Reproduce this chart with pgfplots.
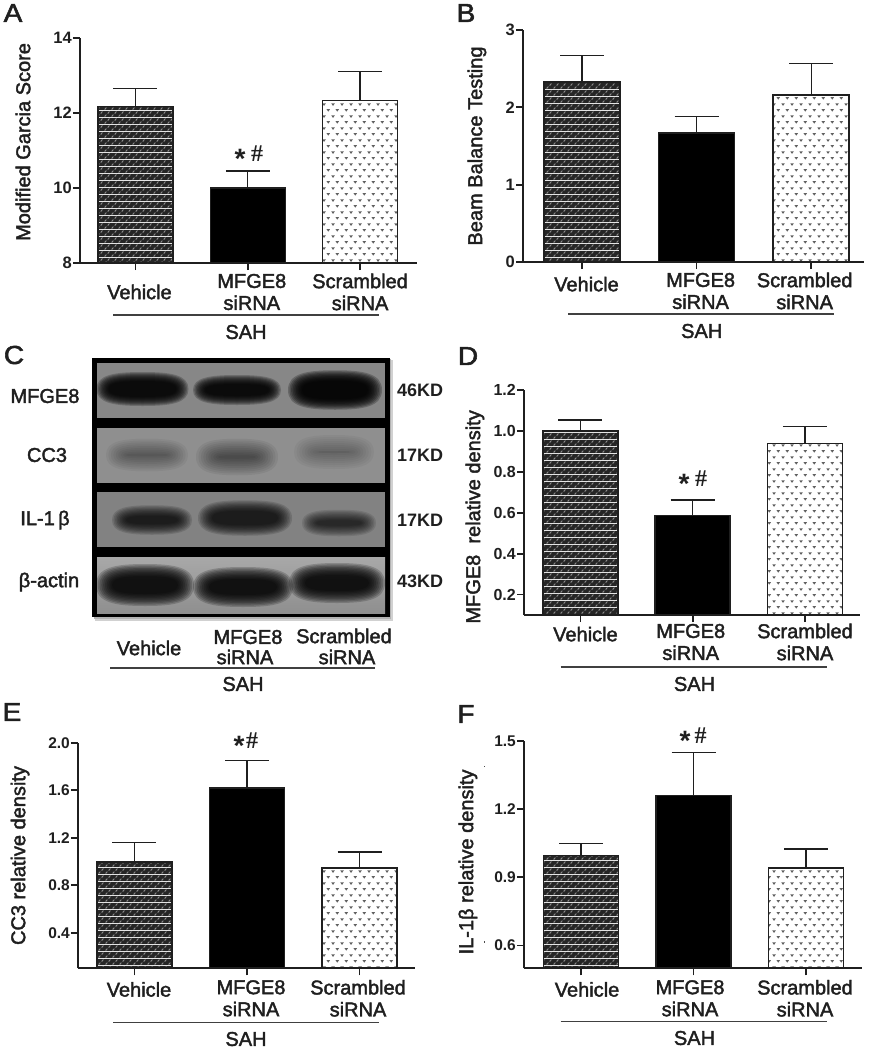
\documentclass[border=0pt]{standalone}
\usepackage{fontspec}
\usepackage{pgfplots}
\pgfplotsset{compat=1.18}
\usetikzlibrary{patterns}
\setmainfont{Liberation Sans}
\newfontfamily\med[FakeBold=2]{Liberation Sans}
\newcommand\labfont{\med\fontsize{20}{22}\selectfont}
\newcommand\tickfont[1]{\bfseries\fontsize{#1}{#1}\selectfont}
\newcommand\sh[1]{\hspace*{#1}}
\definecolor{ink}{gray}{0.12}
\pgfdeclarepatterninherentlycolored{darkw}{\pgfpointorigin}{\pgfqpoint{6.5pt}{6.5pt}}{\pgfqpoint{6.5pt}{6.5pt}}{%
  \pgfsetfillcolor{black!85}%
  \pgfpathrectangle{\pgfpointorigin}{\pgfqpoint{6.5pt}{6.5pt}}\pgfusepath{fill}%
  \pgfsetstrokecolor{black!45}\pgfsetlinewidth{1pt}%
  \pgfpathmoveto{\pgfqpoint{0.7pt}{0.5pt}}\pgfpathlineto{\pgfqpoint{2.5pt}{2.6pt}}%
  \pgfpathmoveto{\pgfqpoint{3.95pt}{3.75pt}}\pgfpathlineto{\pgfqpoint{5.75pt}{5.85pt}}%
  \pgfusepath{stroke}}
\pgfdeclarepatternformonly{scr}{\pgfpointorigin}{\pgfqpoint{9.2pt}{12.2pt}}{\pgfqpoint{9.2pt}{12.2pt}}{%
  \pgfpathmoveto{\pgfqpoint{0.3pt}{11.2pt}}\pgfpathlineto{\pgfqpoint{4.1pt}{11.2pt}}\pgfpathlineto{\pgfqpoint{2.2pt}{8.6pt}}\pgfpathclose
  \pgfpathmoveto{\pgfqpoint{4.9pt}{5.1pt}}\pgfpathlineto{\pgfqpoint{8.7pt}{5.1pt}}\pgfpathlineto{\pgfqpoint{6.8pt}{2.5pt}}\pgfpathclose
  \pgfusepath{fill}}
\pgfplotsset{
  barax/.style={
    scale only axis, axis lines*=left, axis on top,
    axis line style={line width=2pt,color=ink},
    tick align=outside, major tick length=7pt,
    tick style={line width=1.8pt,color=ink},
    xtick={0,1,2},
    x tick label style={font=\labfont,align=center,anchor=center,text=ink},
    y tick label style={inner xsep=1pt,text=ink},
    y label style={font=\labfont,anchor=center,text=ink},
  },
  dk/.style={ybar,bar shift=0pt,draw=ink,line width=1.5pt,pattern=darkw},
  bk/.style={ybar,bar shift=0pt,draw=ink,line width=1.5pt,fill=black},
  sc/.style={ybar,bar shift=0pt,draw=ink,line width=1.5pt,pattern=scr,pattern color=black!62},
  eb/.style={error bars/.cd,y dir=plus,y explicit,
    error bar style={line width=1.3pt,color=ink},
    error mark options={rotate=90,mark size=22pt,line width=1.3pt,color=ink}},
}
\newcommand\threebars[6]{%
  \addplot[dk,eb] coordinates {(0,#1) +- (0,#4)};
  \addplot[bk,eb] coordinates {(1,#2) +- (0,#5)};
  \addplot[sc,eb] coordinates {(2,#3) +- (0,#6)};
}
\newcommand\band[6]{% cx cy a b darkness soft
  \pgfmathsetmacro\op{1-(1-#5)^(0.1)}
  \foreach \i in {0,...,9}{
    \pgfmathsetmacro\dd{#6*(1-\i/4.5)}
    \pgfmathsetmacro\ww{#3+\dd}
    \pgfmathsetmacro\hh{#4+\dd*0.75}
    \fill[black,fill opacity=\op]
      ({#1-\ww},{#2}) .. controls ({#1-\ww},{#2-0.85*\hh}) and ({#1-0.6*\ww},{#2-\hh}) .. ({#1},{#2-\hh})
      .. controls ({#1+0.6*\ww},{#2-\hh}) and ({#1+\ww},{#2-0.85*\hh}) .. ({#1+\ww},{#2})
      .. controls ({#1+\ww},{#2+0.85*\hh}) and ({#1+0.6*\ww},{#2+\hh}) .. ({#1},{#2+\hh})
      .. controls ({#1-0.6*\ww},{#2+\hh}) and ({#1-\ww},{#2+0.85*\hh}) .. cycle;
  }
}
\newcommand\sigmark[3]{% x of *, x of #, y
  \node[text=ink] at (#1,#3+5) {\bfseries\fontsize{28}{28}\selectfont *};
  \node[text=ink] at (#2,#3) {\fontspec{Liberation Serif}\bfseries\fontsize{24}{24}\selectfont \#};
}
\begin{document}
\begin{tikzpicture}
\useasboundingbox (0pt,0pt) rectangle (869pt,-1050pt);

% A
\begin{axis}[barax,at={(80pt,-263pt)},anchor=south west,width=337pt,height=225pt,
  xmin=-0.494,xmax=2.507,ymin=8,ymax=14,bar width=75pt,
  ytick={8,10,12,14},yticklabels={8,10,12,14},
  y tick label style={font=\tickfont{16.5}},
  xticklabels={\sh{8pt}Vehicle,\sh{8pt}MFGE8\\\sh{8pt}siRNA,Scrambled\\siRNA},
  x tick label style={yshift=-22pt},
  ylabel={Modified Garcia Score},y label style={at={(axis description cs:-0.169,0.538)}}]
\threebars{12.18}{10.0}{12.33}{0.47}{0.45}{0.77}
\end{axis}

% B
\begin{axis}[barax,at={(523pt,-262pt)},anchor=south west,width=341pt,height=232pt,
  xmin=-0.515,xmax=2.461,ymin=0,ymax=3,bar width=76pt,
  ytick={0,1,2,3},yticklabels={0,1,2,3},
  y tick label style={font=\tickfont{16.5}},
  xticklabels={\sh{9pt}\raisebox{14pt}{Vehicle},\sh{8pt}MFGE8\\\sh{8pt}siRNA,\sh{-13pt}Scrambled\\\sh{-13pt}siRNA},
  x tick label style={yshift=-22pt},
  ylabel={Beam Balance Testing},y label style={at={(axis description cs:-0.135,0.5)}}]
\threebars{2.33}{1.67}{2.16}{0.34}{0.21}{0.41}
\end{axis}

% D
\begin{axis}[barax,at={(524pt,-615pt)},anchor=south west,width=336pt,height=225pt,
  xmin=-0.503,xmax=2.49,ymin=0.1,ymax=1.2,bar width=75pt,
  ytick={0.2,0.4,0.6,0.8,1.0,1.2},yticklabels={0.2,0.4,0.6,0.8,1.0,1.2},
  y tick label style={font=\tickfont{16}},
  xticklabels={\sh{10pt}\raisebox{16pt}{Vehicle},\sh{-4pt}MFGE8\\\sh{-4pt}siRNA,Scrambled\\siRNA},
  x tick label style={yshift=-20pt},
  ylabel={MFGE8\ \ relative density},y label style={at={(axis description cs:-0.146,0.436)}}]
\threebars{1.0}{0.587}{0.938}{0.054}{0.075}{0.082}
\end{axis}

% E
\begin{axis}[barax,at={(78pt,-968.3pt)},anchor=south west,width=337pt,height=225.6pt,
  xmin=-0.502,xmax=2.493,ymin=0.1,ymax=2.0,bar width=75pt,
  ytick={0.4,0.8,1.2,1.6,2.0},yticklabels={0.4,0.8,1.2,1.6,2.0},
  y tick label style={font=\tickfont{15.5}},
  xticklabels={\sh{9pt}\raisebox{18pt}{Vehicle},\sh{8pt}MFGE8\\\sh{8pt}siRNA,\sh{-3pt}Scrambled\\\sh{-3pt}siRNA},
  x tick label style={yshift=-23pt},
  ylabel={CC3 relative density},y label style={at={(axis description cs:-0.172,0.5)}}]
\threebars{0.996}{1.62}{0.946}{0.164}{0.233}{0.134}
\end{axis}

% F
\begin{axis}[barax,at={(524pt,-968.3pt)},anchor=south west,width=337.7pt,height=227.3pt,
  xmin=-0.507,xmax=2.495,ymin=0.5,ymax=1.5,bar width=75pt,
  ytick={0.6,0.9,1.2,1.5},yticklabels={0.6,0.9,1.2,1.5},
  y tick label style={font=\tickfont{15.5}},
  xticklabels={\sh{12pt}\raisebox{18pt}{Vehicle},\sh{-7pt}MFGE8\\\sh{-7pt}siRNA,\sh{-2pt}Scrambled\\\sh{-2pt}siRNA},
  x tick label style={yshift=-23pt},
  ylabel={IL-1β relative density},y label style={at={(axis description cs:-0.166,0.468)}}]
\threebars{0.997}{1.26}{0.941}{0.053}{0.191}{0.084}
\end{axis}

\begin{scope}[x=1pt,y=-1pt]
% panel letters
\foreach \ll/\xx/\yy in {A/13/13,B/466/13,C/14/355,D/468/356,E/12/712,F/466/714}
  \node[text=ink,xscale=1.08] at (\xx,\yy) {\med\fontsize{26}{26}\selectfont\ll};

% SAH rules and labels
\foreach \aa/\bb/\yy/\sx/\sy in {113/379/315/246/332,568/834/314/701.7/331,110/375/668/243/684,560.7/826.7/667/694.5/684,113/379/1022.7/246/1039,560.7/827/1021.7/694.5/1038}{
  \draw[line width=1.3pt,color=black!75] (\aa,\yy) -- (\bb,\yy);
  \node[text=ink,font=\labfont] at (\sx,\sy) {SAH};
}

% significance marks
\sigmark{240}{257}{154}
\sigmark{684}{701}{479}
\sigmark{239}{252}{741}
\sigmark{685}{700.7}{736}

% specks in F
\fill[black!70] (483.5,766) rectangle (485,767);
\fill[black!70] (483.5,941) rectangle (485,943);

% panel C: blot
\fill[black!18] (95,360) rectangle (393,621);
\fill[black!30] (94,359) rectangle (391,619);
\fill[black] (92,358) rectangle (389.5,617);
\begin{scope}
\clip (97,363) rectangle (385,418);
\fill[black!47] (97,363) rectangle (385,418);
\band{142.5}{389}{40}{12.5}{0.9}{6}
\band{237}{390}{38}{10.5}{0.9}{6}
\band{335}{390}{40}{14.5}{0.93}{7}
\end{scope}
\begin{scope}
\clip (97,428) rectangle (385,483);
\fill[black!44] (97,428) rectangle (385,483);
\band{147}{455}{30}{8}{0.38}{11}
\band{237}{457}{30}{10}{0.45}{11}
\band{334}{452}{28}{8}{0.3}{12}
\end{scope}
\begin{scope}
\clip (97,492) rectangle (385,547);
\fill[black!49] (97,492) rectangle (385,547);
\band{152}{520}{33}{9.5}{0.76}{7}
\band{245}{518}{40}{12.5}{0.76}{7}
\band{339}{523}{30}{8}{0.68}{7}
\end{scope}
\begin{scope}
\clip (97,557) rectangle (385,613);
\shade[top color=black!34,bottom color=black!44] (97,557) rectangle (385,613);
\band{145}{585}{41}{15}{0.87}{8}
\band{243}{587}{42}{14}{0.87}{8}
\band{337}{583}{40}{14}{0.87}{8}
\end{scope}

% panel C: labels
\node[text=ink,font=\labfont] at (45,396) {MFGE8};
\node[text=ink,font=\labfont] at (47,455) {CC3};
\node[text=ink,font=\labfont] at (45,520) {IL-1\,β};
\node[text=ink,font=\labfont] at (49,582) {β-actin};
\foreach \tt/\yy in {46KD/390,17KD/455,17KD/520,43KD/581}
  \node[text=ink,anchor=west,inner xsep=0pt] at (397,\yy) {\bfseries\fontsize{18}{18}\selectfont\tt};
\node[text=ink,font=\labfont] at (149,648) {Vehicle};
\node[text=ink,font=\labfont] at (248,637) {MFGE8};
\node[text=ink,font=\labfont] at (245,657) {siRNA};
\node[text=ink,font=\labfont] at (344,636) {Scrambled};
\node[text=ink,font=\labfont] at (347,657) {siRNA};
\end{scope}
\end{tikzpicture}
\end{document}
